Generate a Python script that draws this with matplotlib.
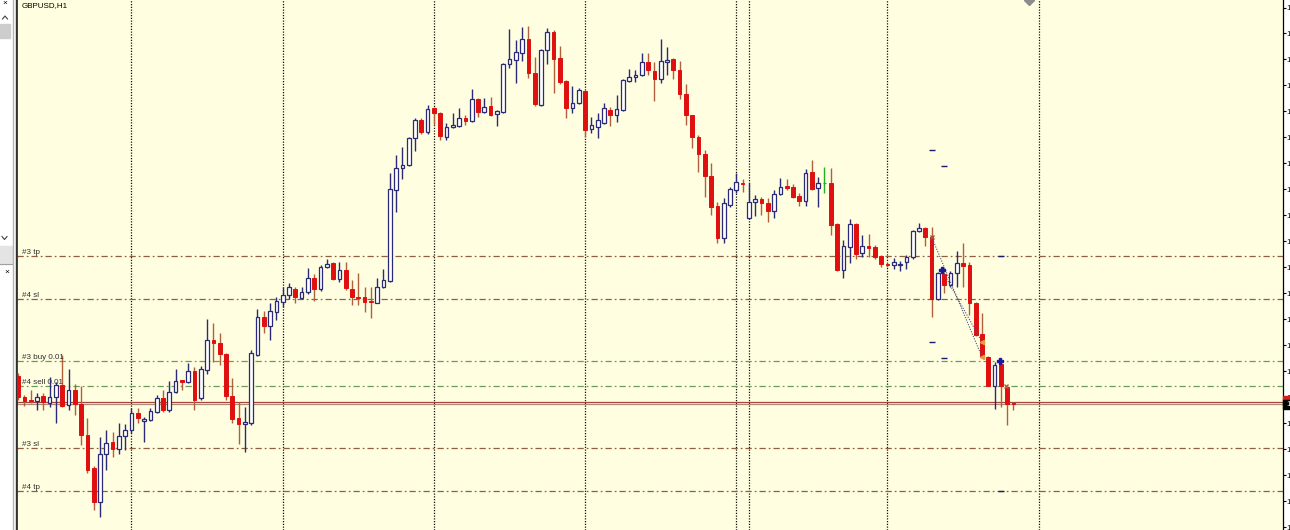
import numpy as np
import matplotlib
matplotlib.use("Agg")
import matplotlib.pyplot as plt
from matplotlib.patches import Rectangle

plt.rcParams["font.family"] = ["Liberation Sans", "DejaVu Sans"]

# ------------------------------------------------------------------
# GBPUSD H1 bars
# ------------------------------------------------------------------
symbol = "GBPUSD,H1"

open_ = [
    1.2624, 1.2603, 1.2600, 1.2599, 1.2604, 1.2597, 1.2603, 1.2615, 1.2595, 1.2610,
    1.2596, 1.2565, 1.2532, 1.2498, 1.2546, 1.2558, 1.2551, 1.2564, 1.2570, 1.2587,
    1.2579, 1.2580, 1.2588, 1.2602, 1.2590, 1.2608, 1.2620, 1.2618, 1.2629, 1.2602,
    1.2630, 1.2660, 1.2657, 1.2646, 1.2604, 1.2582, 1.2576, 1.2577, 1.2645, 1.2683,
    1.2674, 1.2688, 1.2698, 1.2705, 1.2711, 1.2702, 1.2708, 1.2722, 1.2711, 1.2733,
    1.2737, 1.2721, 1.2730, 1.2711, 1.2703, 1.2703, 1.2699, 1.2697, 1.2713, 1.2719,
    1.2810, 1.2832, 1.2835, 1.2862, 1.2880, 1.2868, 1.2892, 1.2887, 1.2863, 1.2873,
    1.2874, 1.2882, 1.2879, 1.2901, 1.2888, 1.2894, 1.2886, 1.2888, 1.2936, 1.2940,
    1.2947, 1.2961, 1.2927, 1.2895, 1.2950, 1.2968, 1.2942, 1.2919, 1.2892, 1.2897,
    1.2909, 1.2871, 1.2873, 1.2877, 1.2890, 1.2885, 1.2890, 1.2919, 1.2923, 1.2925,
    1.2938, 1.2929, 1.2921, 1.2938, 1.2941, 1.2930, 1.2906, 1.2885, 1.2863, 1.2846,
    1.2824, 1.2794, 1.2762, 1.2795, 1.2810, 1.2817, 1.2782, 1.2798, 1.2801, 1.2797,
    1.2789, 1.2806, 1.2814, 1.2813, 1.2804, 1.2799, 1.2828, 1.2812, 1.2817, 1.2817,
    1.2776, 1.2730, 1.2753, 1.2776, 1.2747, 1.2754, 1.2753, 1.2744, 1.2736, 1.2735,
    1.2735, 1.2738, 1.2743, 1.2769, 1.2772, 1.2763, 1.2701, 1.2726, 1.2715, 1.2727,
    1.2737, 1.2735, 1.2697, 1.2666, 1.2643, 1.2614, 1.2636, 1.2613, 1.2597,
]
high_ = [
    1.2627, 1.2605, 1.2610, 1.2607, 1.2607, 1.2623, 1.2618, 1.2645, 1.2631, 1.2616,
    1.2614, 1.2582, 1.2534, 1.2563, 1.2570, 1.2568, 1.2577, 1.2576, 1.2592, 1.2592,
    1.2583, 1.2592, 1.2605, 1.2610, 1.2619, 1.2631, 1.2620, 1.2637, 1.2633, 1.2634,
    1.2681, 1.2677, 1.2667, 1.2647, 1.2622, 1.2598, 1.2593, 1.2650, 1.2691, 1.2689,
    1.2697, 1.2703, 1.2713, 1.2717, 1.2713, 1.2713, 1.2732, 1.2726, 1.2735, 1.2741,
    1.2738, 1.2738, 1.2738, 1.2720, 1.2727, 1.2713, 1.2713, 1.2722, 1.2731, 1.2827,
    1.2845, 1.2853, 1.2863, 1.2882, 1.2882, 1.2895, 1.2893, 1.2888, 1.2877, 1.2887,
    1.2892, 1.2885, 1.2911, 1.2902, 1.2902, 1.2903, 1.2890, 1.2937, 1.2971, 1.2960,
    1.2973, 1.2974, 1.2943, 1.2951, 1.2972, 1.2970, 1.2954, 1.2920, 1.2914, 1.2912,
    1.2910, 1.2883, 1.2887, 1.2897, 1.2893, 1.2905, 1.2921, 1.2931, 1.2930, 1.2947,
    1.2947, 1.2938, 1.2961, 1.2953, 1.2942, 1.2939, 1.2916, 1.2885, 1.2865, 1.2850,
    1.2837, 1.2798, 1.2802, 1.2813, 1.2827, 1.2821, 1.2817, 1.2805, 1.2803, 1.2802,
    1.2810, 1.2822, 1.2821, 1.2816, 1.2807, 1.2831, 1.2840, 1.2823, 1.2833, 1.2832,
    1.2777, 1.2760, 1.2781, 1.2777, 1.2765, 1.2766, 1.2755, 1.2745, 1.2737, 1.2742,
    1.2739, 1.2745, 1.2770, 1.2777, 1.2773, 1.2773, 1.2728, 1.2728, 1.2729, 1.2749,
    1.2757, 1.2738, 1.2698, 1.2687, 1.2644, 1.2638, 1.2637, 1.2614, 1.2598,
]
low_ = [
    1.2600, 1.2594, 1.2597, 1.2590, 1.2590, 1.2593, 1.2577, 1.2593, 1.2590, 1.2585,
    1.2555, 1.2527, 1.2490, 1.2483, 1.2530, 1.2543, 1.2546, 1.2550, 1.2567, 1.2577,
    1.2558, 1.2579, 1.2587, 1.2588, 1.2588, 1.2607, 1.2610, 1.2617, 1.2590, 1.2600,
    1.2626, 1.2638, 1.2635, 1.2600, 1.2577, 1.2556, 1.2548, 1.2575, 1.2644, 1.2667,
    1.2660, 1.2680, 1.2693, 1.2701, 1.2697, 1.2701, 1.2706, 1.2699, 1.2709, 1.2732,
    1.2720, 1.2718, 1.2710, 1.2695, 1.2695, 1.2688, 1.2682, 1.2697, 1.2712, 1.2718,
    1.2788, 1.2821, 1.2834, 1.2849, 1.2866, 1.2866, 1.2875, 1.2860, 1.2860, 1.2872,
    1.2873, 1.2875, 1.2878, 1.2883, 1.2887, 1.2884, 1.2874, 1.2887, 1.2932, 1.2917,
    1.2939, 1.2922, 1.2894, 1.2894, 1.2936, 1.2907, 1.2916, 1.2882, 1.2887, 1.2896,
    1.2863, 1.2867, 1.2862, 1.2876, 1.2874, 1.2878, 1.2889, 1.2918, 1.2918, 1.2924,
    1.2925, 1.2899, 1.2917, 1.2925, 1.2921, 1.2901, 1.2875, 1.2852, 1.2828, 1.2803,
    1.2785, 1.2757, 1.2757, 1.2793, 1.2807, 1.2808, 1.2781, 1.2784, 1.2785, 1.2778,
    1.2782, 1.2805, 1.2810, 1.2802, 1.2794, 1.2794, 1.2810, 1.2793, 1.2807, 1.2765,
    1.2729, 1.2722, 1.2737, 1.2741, 1.2743, 1.2743, 1.2741, 1.2733, 1.2733, 1.2731,
    1.2729, 1.2731, 1.2741, 1.2768, 1.2754, 1.2683, 1.2700, 1.2707, 1.2713, 1.2713,
    1.2713, 1.2685, 1.2664, 1.2642, 1.2614, 1.2591, 1.2593, 1.2575, 1.2590,
]
close_ = [
    1.2603, 1.2599, 1.2599, 1.2603, 1.2598, 1.2603, 1.2615, 1.2594, 1.2610, 1.2596,
    1.2565, 1.2530, 1.2498, 1.2546, 1.2557, 1.2551, 1.2564, 1.2570, 1.2587, 1.2582,
    1.2581, 1.2589, 1.2602, 1.2590, 1.2608, 1.2619, 1.2618, 1.2629, 1.2600, 1.2631,
    1.2660, 1.2657, 1.2646, 1.2604, 1.2581, 1.2576, 1.2578, 1.2647, 1.2683, 1.2674,
    1.2689, 1.2699, 1.2705, 1.2713, 1.2703, 1.2708, 1.2722, 1.2711, 1.2733, 1.2736,
    1.2721, 1.2730, 1.2712, 1.2703, 1.2702, 1.2698, 1.2698, 1.2713, 1.2720, 1.2811,
    1.2832, 1.2835, 1.2862, 1.2880, 1.2868, 1.2891, 1.2887, 1.2864, 1.2873, 1.2875,
    1.2882, 1.2879, 1.2901, 1.2888, 1.2893, 1.2885, 1.2889, 1.2936, 1.2941, 1.2948,
    1.2961, 1.2927, 1.2896, 1.2950, 1.2968, 1.2941, 1.2918, 1.2892, 1.2897, 1.2910,
    1.2870, 1.2875, 1.2880, 1.2892, 1.2885, 1.2891, 1.2920, 1.2923, 1.2925, 1.2938,
    1.2930, 1.2921, 1.2939, 1.2940, 1.2930, 1.2906, 1.2885, 1.2863, 1.2846, 1.2824,
    1.2793, 1.2762, 1.2797, 1.2811, 1.2818, 1.2816, 1.2798, 1.2801, 1.2797, 1.2789,
    1.2806, 1.2813, 1.2812, 1.2803, 1.2799, 1.2827, 1.2811, 1.2817, 1.2817, 1.2775,
    1.2730, 1.2754, 1.2776, 1.2746, 1.2754, 1.2752, 1.2743, 1.2736, 1.2735, 1.2738,
    1.2736, 1.2743, 1.2769, 1.2772, 1.2763, 1.2701, 1.2727, 1.2715, 1.2727, 1.2737,
    1.2734, 1.2697, 1.2665, 1.2643, 1.2614, 1.2635, 1.2614, 1.2596, 1.2596,
]

# order lines (tp / sl / open price)
level_prices = [1.2744, 1.2701, 1.2639, 1.2614, 1.2552, 1.2509]
level_labels = ["#3 tp", "#4 sl", "#3 buy 0.01", "#4 sell 0.01", "#3 sl", "#4 tp"]
level_kinds = ["stop", "stop", "order", "order", "stop", "stop"]
ask_price = 1.25985

# day separators (bar numbers) and one extra vertical line object
day_bars = [18, 42, 66, 90, 114, 138, 162]
vline_bars = [116]

# closed trades from history
hist_open_bar = [145, 146.6]
hist_open_price = [1.2763, 1.2730]
hist_close_bar = [153, 153]
hist_close_price = [1.2643, 1.2658]
hist_stop_bar = [145, 147, 145, 147]
hist_stop_price = [1.2850, 1.2834, 1.2658, 1.2642]

# open trades (#3 buy, #4 sell)
open_bar = [155.8, 156.8]
open_price = [1.2639, 1.2614]
open_tp_bar = [156, 156]
open_tp_price = [1.2744, 1.2509]

# ------------------------------------------------------------------
# colours
# ------------------------------------------------------------------
BG = "#FFFEE0"
BULL = "#2A2A78"
BEAR = "#E01010"
BEAR_WICK = "#B0603C"
DOJI = "#22B022"
STOP_C = "#8E5E40"
ORDER_C = "#6C9A58"

W, H = 1290, 530
X0, X1 = 17, 1283          # chart area in pixels
BAR_PX, FIRST_PX = 6.3, 18.1

fig = plt.figure(figsize=(W / 100, H / 100), dpi=100)
fig.patch.set_facecolor("white")

ax = fig.add_axes([X0 / W, 0, (X1 - X0) / W, 1])
ax.set_facecolor(BG)
ax.set_xlim((X0 - FIRST_PX) / BAR_PX, (X1 - FIRST_PX) / BAR_PX)
ax.set_ylim(1.2470, 1.3000)

o = np.array(open_)
h = np.array(high_)
l = np.array(low_)
c = np.array(close_)
x = np.arange(len(o))
up = c > o
dn = c < o
dj = c == o

# wicks
ax.vlines(x[up], l[up], h[up], color=BULL, lw=1.0, zorder=3)
ax.vlines(x[dn], l[dn], h[dn], color=BEAR_WICK, lw=1.0, zorder=3)
ax.vlines(x[dj], l[dj], h[dj], color=DOJI, lw=1.0, zorder=3)

# bodies
ax.bar(x[up], (c - o)[up], bottom=o[up], width=0.6, facecolor="white",
       edgecolor=BULL, lw=0.9, zorder=4)
ax.bar(x[dn], (o - c)[dn], bottom=c[dn], width=0.6, facecolor=BEAR,
       edgecolor=BEAR, lw=0.7, zorder=4)
ax.hlines(o[dj], x[dj] - 0.3, x[dj] + 0.3, color=DOJI, lw=0.9, zorder=4)

# vertical separators
for b in day_bars + vline_bars:
    ax.axvline(b, color="#101010", lw=0.9, dashes=(1, 1.2), zorder=1)

# order lines with labels
for p, lab, kind in zip(level_prices, level_labels, level_kinds):
    col = STOP_C if kind == "stop" else ORDER_C
    ax.axhline(p, color=col, lw=0.9, dashes=(5, 2.4, 1.4, 2.4), zorder=2)
    ax.text(5 / (X1 - X0), p + 0.00022, lab, transform=ax.get_yaxis_transform(),
            fontsize=5.8, color="#303030", ha="left", va="baseline", zorder=6)

# bid / ask lines
ax.axhline(ask_price, color="#A8443A", lw=0.9, zorder=2)
ax.axhline(close_[-1], color="#A88C7C", lw=0.9, zorder=2)

# history trades
for ob, op, cb, cp in zip(hist_open_bar, hist_open_price, hist_close_bar, hist_close_price):
    ax.plot([ob, cb], [op, cp], color="#4A5080", lw=0.8, dashes=(1, 1.3), zorder=5)
    ax.plot(cb, cp, marker="<", ms=3, color="#E0A040", zorder=6)
ax.plot(hist_open_bar[0], hist_open_price[0], marker="x", ms=3, mew=1, color="#B05030", zorder=6)
ax.plot(hist_open_bar[1], hist_open_price[1], marker="P", ms=4, color="#1A1A9A", zorder=6)
ax.plot(hist_stop_bar, hist_stop_price, ls="none", marker="_", ms=4, mew=1,
        color="#1A1A6A", zorder=6)

# open trades
ax.plot(open_bar[0], open_price[0], marker="P", ms=4, color="#1A1A9A", zorder=6)
ax.plot(open_bar[1], open_price[1], marker="x", ms=3, mew=1, color="#C06040", zorder=6)
ax.plot(open_tp_bar, open_tp_price, ls="none", marker="_", ms=4, mew=1,
        color="#1A1A6A", zorder=6)

# object marker cut at the top edge
ax.plot(160.4, 1.3000, marker="D", ms=5, color="#8C8C8C", zorder=6)

# right price scale (labels run past the window edge like the screenshot)
ticks = np.arange(1.29925, 1.2470, -0.0026)
ax.yaxis.tick_right()
ax.set_yticks(ticks)
ax.set_yticklabels([f"{t:.5f}" for t in ticks])
ax.tick_params(axis="y", length=2.2, width=0.8, pad=0.6, labelsize=5.8, colors="black")
ax.set_xticks([])
for side in ("top", "bottom"):
    ax.spines[side].set_visible(False)
ax.spines["left"].set_color("#202020")
ax.spines["left"].set_linewidth(1.2)
ax.spines["right"].set_color("black")
ax.spines["right"].set_linewidth(0.9)

# current price box
ytr = ax.get_yaxis_transform()
ax.add_patch(Rectangle((1.0, 1.2600), 0.01, 0.0004, transform=ytr, color="#D02020",
                       clip_on=False, zorder=10))
ax.add_patch(Rectangle((1.0, 1.2591), 0.01, 0.0009, transform=ytr, color="black",
                       clip_on=False, zorder=10))
ax.text(1.003, 1.25955, f"{close_[-1]:.5f}", transform=ytr, color="white",
        fontsize=5.8, ha="left", va="center", zorder=11, clip_on=False)

fig.text(21.5 / W, 1 - 2.5 / H, symbol, fontsize=5.8, ha="left", va="top", color="black")

# ------------------------------------------------------------------
# left side panel stub (navigator window edge)
# ------------------------------------------------------------------
pan = fig.add_axes([0, 0, X0 / W, 1])
pan.set_xlim(0, X0)
pan.set_ylim(H, 0)
pan.axis("off")
pan.add_patch(Rectangle((0, 0), 12, H, color="white"))
pan.add_patch(Rectangle((0, 24), 10, 14, color="#CDCDCD"))
pan.add_patch(Rectangle((0, 246), 12, 18, color="#E4E4E4"))
pan.plot([0, 12], [264, 264], color="#A0A0A0", lw=0.8)
pan.plot([2.5, 5, 7.5], [19, 16, 19], color="#404040", lw=0.8)
pan.plot([2, 4.5, 7], [236.5, 239.5, 236.5], color="#404040", lw=0.8)
pan.text(5, 3.5, "\u00d7", fontsize=6, ha="center", va="center", color="black")
pan.text(6.5, 272, "\u00d7", fontsize=6, ha="center", va="center", color="black")
pan.plot([13.2, 13.2], [0, H], color="#B4B4B4", lw=1)
pan.plot([15.8, 15.8], [0, H], color="#303030", lw=1)

fig.savefig("out.png", dpi=100)
plt.close(fig)
